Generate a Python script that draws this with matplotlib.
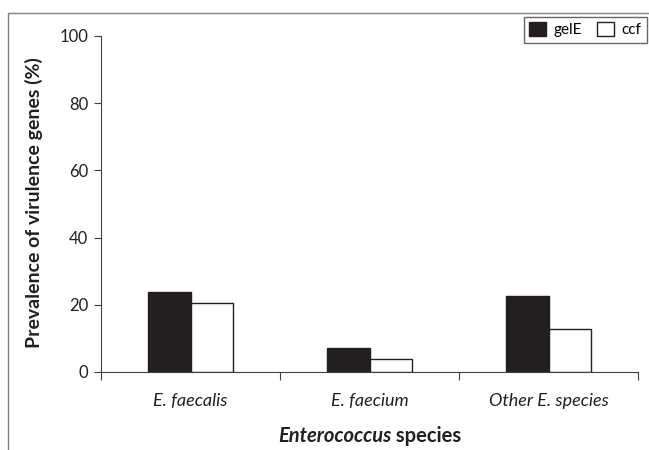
import numpy as np
import matplotlib
matplotlib.use("Agg")
import matplotlib.pyplot as plt
from matplotlib.patches import Rectangle

# data
species = ["E. faecalis", "E. faecium", "Other E. species"]
gelE = [23.7, 7.2, 22.7]
ccf = [20.4, 3.9, 12.7]

plt.rcParams['font.family'] = ['Lato', 'DejaVu Sans']

fig = plt.figure(figsize=(6.49, 4.5), dpi=100)
ax = fig.add_axes([101/649, 1-372/450, (638-101)/649, (372-36)/450])

x = np.arange(len(species))
w = 0.235
ax.bar(x - w/2, gelE, w, color='#231f20', edgecolor='#231f20', linewidth=1, label='gelE')
ax.bar(x + w/2, ccf, w, color='white', edgecolor='#231f20', linewidth=1, label='ccf')

ax.set_xlim(-0.5, 2.5)
ax.set_ylim(0, 100)
ax.set_yticks(np.arange(0, 101, 20))
ax.tick_params(axis='y', labelsize=12, length=5, color='#404040', pad=4, labelcolor='#231f20')

# category boundaries as tick marks, labels in the middle
ax.set_xticks([-0.5, 0.5, 1.5, 2.5])
ax.set_xticklabels([])
ax.tick_params(axis='x', which='major', length=6, color='#404040')
ax.set_xticks(x, minor=True)
ax.set_xticklabels(species, minor=True, style='italic', fontsize=13, color='#231f20')
ax.tick_params(axis='x', which='minor', length=0, pad=15)

for s in ['top', 'right']:
    ax.spines[s].set_visible(False)
for s in ['left', 'bottom']:
    ax.spines[s].set_color('#404040')

ax.set_ylabel('Prevalence of virulence genes (%)', fontsize=14, fontweight='bold', color='#231f20')
ax.yaxis.set_label_coords(-0.108, 0.504)

# x label in two parts: italic bold + bold
fig.canvas.draw()
r = fig.canvas.get_renderer()
t1 = fig.text(0, 0, 'Enterococcus', fontsize=14.5, fontweight='bold', style='italic',
              va='center', color='#231f20')
t2 = fig.text(0, 0, ' species', fontsize=14.5, fontweight='bold', va='center', color='#231f20')
w1 = t1.get_window_extent(r).width
w2 = t2.get_window_extent(r).width
cx = 369.5
x0 = cx - (w1 + w2) / 2
yl = 1 - 436/450
t1.set_position((x0/649, yl))
t2.set_position(((x0 + w1)/649, yl))

leg = ax.legend(loc='upper right', bbox_to_anchor=(647/649, 1-17/450), bbox_transform=fig.transFigure,
                ncol=2, fontsize=11, frameon=True, fancybox=False, handlelength=1.1, handleheight=1.0,
                columnspacing=1.0, handletextpad=0.5, borderpad=0.35, borderaxespad=0)
leg.get_frame().set_edgecolor('#404040')
leg.get_frame().set_linewidth(1)

# outer frame of the figure panel
fig.patches.append(Rectangle((8/649, -0.1), 1.2, 1 - 13/450 + 0.1, transform=fig.transFigure,
                             fill=False, edgecolor='#808080', linewidth=1))

fig.savefig('out.png', dpi=100)
